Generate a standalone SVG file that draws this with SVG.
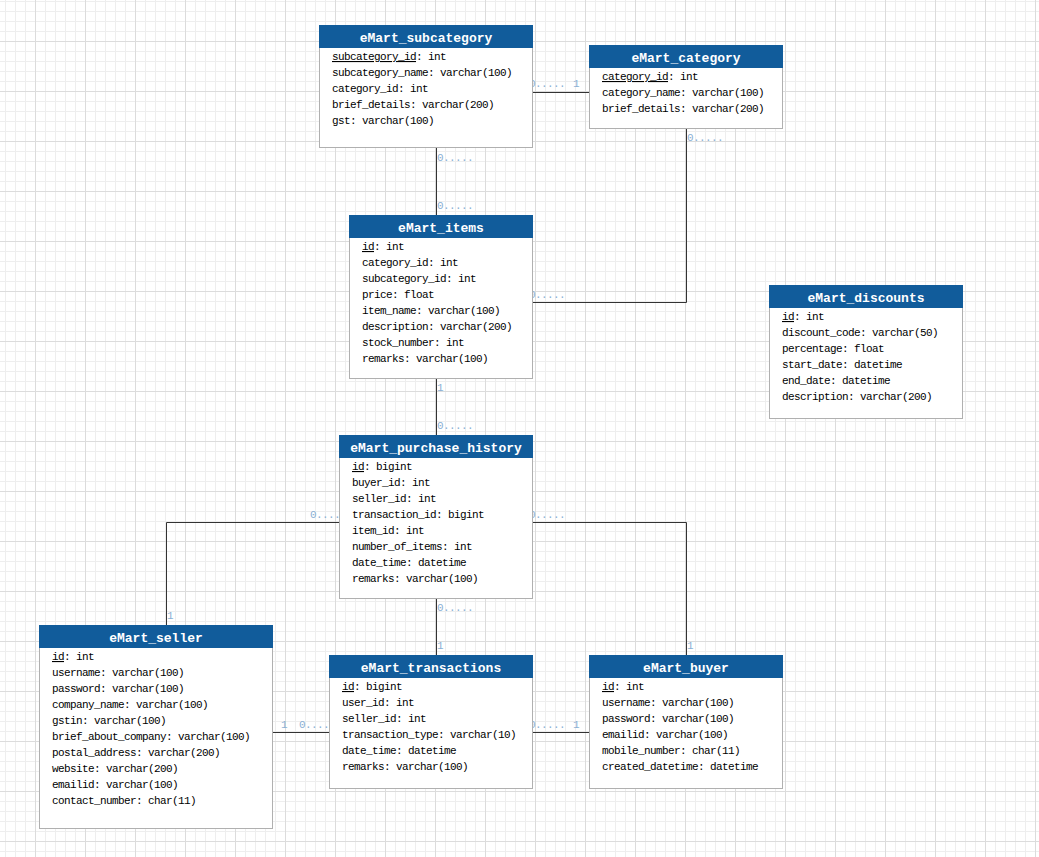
<svg xmlns="http://www.w3.org/2000/svg" width="1039" height="857" viewBox="0 0 1039 857">
  <defs>
    <pattern id="gridMinor" patternUnits="userSpaceOnUse" x="5" y="1" width="10" height="10">
      <path d="M0.5 0V10M0 0.5H10" fill="none" stroke="#eeeeee" stroke-width="1"/>
    </pattern>
    <pattern id="gridMajor" patternUnits="userSpaceOnUse" x="35" y="41" width="50" height="50">
      <path d="M0.5 0V50M0 0.5H50" fill="none" stroke="#dcdcdc" stroke-width="1"/>
    </pattern>
  </defs>
  <style>
    .body { fill: #ffffff; stroke: #b0b0b0; stroke-width: 1; }
    .hdr { fill: #115c9b; stroke: #115c9b; stroke-width: 1; }
    .ttl { font-family: "Liberation Mono", "DejaVu Sans Mono", monospace; font-size: 13px; font-weight: bold; fill: #ffffff; text-anchor: middle; }
    .row { font-family: "Liberation Mono", "DejaVu Sans Mono", monospace; font-size: 11px; letter-spacing: -0.6px; fill: #000000; }
    .pk { text-decoration: underline; }
    .conn { fill: none; stroke: #333333; stroke-width: 1; }
    .lbl { font-family: "Liberation Mono", "DejaVu Sans Mono", monospace; font-size: 11px; letter-spacing: -0.6px; fill: #8ab0d4; }
  </style>

  <!-- background grid -->
  <rect x="0" y="0" width="1039" height="857" fill="#ffffff"/>
  <rect x="0" y="0" width="1039" height="857" fill="url(#gridMinor)"/>
  <rect x="0" y="0" width="1039" height="857" fill="url(#gridMajor)"/>

  <!-- relationships -->
  <g id="connectors">
    <path class="conn" d="M532.5 92.5H589.5"/>
    <text class="lbl" x="529" y="87">0.....</text>
    <text class="lbl" x="573" y="87">1</text>

    <path class="conn" d="M436.5 147.5V215.5"/>
    <text class="lbl" x="437" y="161">0.....</text>
    <text class="lbl" x="437" y="209">0.....</text>

    <path class="conn" d="M686.5 128.5V302.5H532.5"/>
    <text class="lbl" x="687" y="141">0.....</text>
    <text class="lbl" x="529" y="298">0.....</text>

    <path class="conn" d="M436.5 378.5V435.5"/>
    <text class="lbl" x="437" y="391">1</text>
    <text class="lbl" x="437" y="429">0.....</text>

    <path class="conn" d="M339.5 522.5H166.5V625.5"/>
    <text class="lbl" x="310" y="518">0.....</text>
    <text class="lbl" x="167" y="619">1</text>

    <path class="conn" d="M532.5 522.5H686.5V655.5"/>
    <text class="lbl" x="529" y="518">0.....</text>
    <text class="lbl" x="687" y="649">1</text>

    <path class="conn" d="M436.5 598.5V655.5"/>
    <text class="lbl" x="437" y="611">0.....</text>
    <text class="lbl" x="437" y="649">1</text>

    <path class="conn" d="M272.5 732.5H329.5"/>
    <text class="lbl" x="281" y="728">1</text>
    <text class="lbl" x="299" y="728">0.....</text>

    <path class="conn" d="M532.5 732.5H589.5"/>
    <text class="lbl" x="529" y="728">0.....</text>
    <text class="lbl" x="573" y="728">1</text>
  </g>

  <!-- tables -->
  <g id="eMart_subcategory">
    <rect class="body" x="319.5" y="25.5" width="213" height="122"/>
    <rect class="hdr" x="319.5" y="25.5" width="213" height="22"/>
    <text class="ttl" x="426" y="42">eMart_subcategory</text>
    <text class="row" x="332" y="60"><tspan class="pk">subcategory_id</tspan>: int</text>
    <text class="row" x="332" y="76">subcategory_name: varchar(100)</text>
    <text class="row" x="332" y="92">category_id: int</text>
    <text class="row" x="332" y="108">brief_details: varchar(200)</text>
    <text class="row" x="332" y="124">gst: varchar(100)</text>
  </g>

  <g id="eMart_category">
    <rect class="body" x="589.5" y="45.5" width="193" height="83"/>
    <rect class="hdr" x="589.5" y="45.5" width="193" height="22"/>
    <text class="ttl" x="686" y="62">eMart_category</text>
    <text class="row" x="602" y="80"><tspan class="pk">category_id</tspan>: int</text>
    <text class="row" x="602" y="96">category_name: varchar(100)</text>
    <text class="row" x="602" y="112">brief_details: varchar(200)</text>
  </g>

  <g id="eMart_items">
    <rect class="body" x="349.5" y="215.5" width="183" height="163"/>
    <rect class="hdr" x="349.5" y="215.5" width="183" height="22"/>
    <text class="ttl" x="441" y="232">eMart_items</text>
    <text class="row" x="362" y="250"><tspan class="pk">id</tspan>: int</text>
    <text class="row" x="362" y="266">category_id: int</text>
    <text class="row" x="362" y="282">subcategory_id: int</text>
    <text class="row" x="362" y="298">price: float</text>
    <text class="row" x="362" y="314">item_name: varchar(100)</text>
    <text class="row" x="362" y="330">description: varchar(200)</text>
    <text class="row" x="362" y="346">stock_number: int</text>
    <text class="row" x="362" y="362">remarks: varchar(100)</text>
  </g>

  <g id="eMart_discounts">
    <rect class="body" x="769.5" y="285.5" width="193" height="133"/>
    <rect class="hdr" x="769.5" y="285.5" width="193" height="22"/>
    <text class="ttl" x="866" y="302">eMart_discounts</text>
    <text class="row" x="782" y="320"><tspan class="pk">id</tspan>: int</text>
    <text class="row" x="782" y="336">discount_code: varchar(50)</text>
    <text class="row" x="782" y="352">percentage: float</text>
    <text class="row" x="782" y="368">start_date: datetime</text>
    <text class="row" x="782" y="384">end_date: datetime</text>
    <text class="row" x="782" y="400">description: varchar(200)</text>
  </g>

  <g id="eMart_purchase_history">
    <rect class="body" x="339.5" y="435.5" width="193" height="163"/>
    <rect class="hdr" x="339.5" y="435.5" width="193" height="22"/>
    <text class="ttl" x="436" y="452">eMart_purchase_history</text>
    <text class="row" x="352" y="470"><tspan class="pk">id</tspan>: bigint</text>
    <text class="row" x="352" y="486">buyer_id: int</text>
    <text class="row" x="352" y="502">seller_id: int</text>
    <text class="row" x="352" y="518">transaction_id: bigint</text>
    <text class="row" x="352" y="534">item_id: int</text>
    <text class="row" x="352" y="550">number_of_items: int</text>
    <text class="row" x="352" y="566">date_time: datetime</text>
    <text class="row" x="352" y="582">remarks: varchar(100)</text>
  </g>

  <g id="eMart_seller">
    <rect class="body" x="39.5" y="625.5" width="233" height="203"/>
    <rect class="hdr" x="39.5" y="625.5" width="233" height="22"/>
    <text class="ttl" x="156" y="642">eMart_seller</text>
    <text class="row" x="52" y="660"><tspan class="pk">id</tspan>: int</text>
    <text class="row" x="52" y="676">username: varchar(100)</text>
    <text class="row" x="52" y="692">password: varchar(100)</text>
    <text class="row" x="52" y="708">company_name: varchar(100)</text>
    <text class="row" x="52" y="724">gstin: varchar(100)</text>
    <text class="row" x="52" y="740">brief_about_company: varchar(100)</text>
    <text class="row" x="52" y="756">postal_address: varchar(200)</text>
    <text class="row" x="52" y="772">website: varchar(200)</text>
    <text class="row" x="52" y="788">emailid: varchar(100)</text>
    <text class="row" x="52" y="804">contact_number: char(11)</text>
  </g>

  <g id="eMart_transactions">
    <rect class="body" x="329.5" y="655.5" width="203" height="133"/>
    <rect class="hdr" x="329.5" y="655.5" width="203" height="22"/>
    <text class="ttl" x="431" y="672">eMart_transactions</text>
    <text class="row" x="342" y="690"><tspan class="pk">id</tspan>: bigint</text>
    <text class="row" x="342" y="706">user_id: int</text>
    <text class="row" x="342" y="722">seller_id: int</text>
    <text class="row" x="342" y="738">transaction_type: varchar(10)</text>
    <text class="row" x="342" y="754">date_time: datetime</text>
    <text class="row" x="342" y="770">remarks: varchar(100)</text>
  </g>

  <g id="eMart_buyer">
    <rect class="body" x="589.5" y="655.5" width="193" height="133"/>
    <rect class="hdr" x="589.5" y="655.5" width="193" height="22"/>
    <text class="ttl" x="686" y="672">eMart_buyer</text>
    <text class="row" x="602" y="690"><tspan class="pk">id</tspan>: int</text>
    <text class="row" x="602" y="706">username: varchar(100)</text>
    <text class="row" x="602" y="722">password: varchar(100)</text>
    <text class="row" x="602" y="738">emailid: varchar(100)</text>
    <text class="row" x="602" y="754">mobile_number: char(11)</text>
    <text class="row" x="602" y="770">created_datetime: datetime</text>
  </g>
</svg>
